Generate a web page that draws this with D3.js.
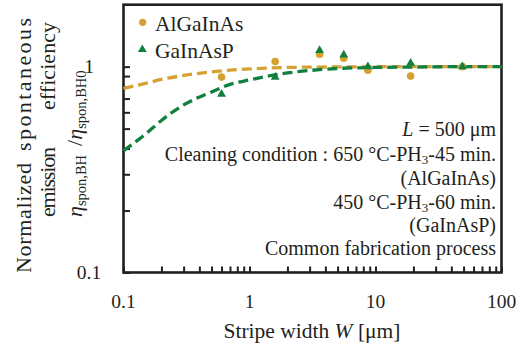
<!DOCTYPE html>
<html>
<head>
<meta charset="utf-8">
<script src="https://cdn.jsdelivr.net/npm/d3@7"></script>
<style>
  html, body { margin: 0; padding: 0; background: #fff; }
  svg { display: block; font-family: "Liberation Serif", "Times New Roman", serif; }
</style>
</head>
<body>
<svg id="chart" width="532" height="347"></svg>
<script>
// Measured stripe widths (µm) and normalized spontaneous emission efficiency
const widths = [0.6, 1.6, 3.6, 5.6, 8.7, 19, 49];
const algainas = [0.89, 1.06, 1.15, 1.10, 0.96, 0.90, 1.00];
const gainasp = [0.735, 0.89, 1.20, 1.14, 1.00, 1.04, 1.00];

// Fitted trend curves
const fitWidths = [0.1, 0.15, 0.2, 0.3, 0.5, 0.7, 1, 1.5, 2, 3, 5, 10, 20, 50, 100];
const fitAlGaInAs = [0.785, 0.83, 0.867, 0.906, 0.944, 0.962, 0.975, 0.986, 0.991, 0.995, 0.997, 0.999, 1, 1, 1];
const fitGaInAsP = [0.391, 0.471, 0.548, 0.652, 0.754, 0.82, 0.862, 0.906, 0.932, 0.958, 0.98, 0.991, 0.996, 1, 1];

const xTickLabels = ["0.1", "1", "10", "100"];
const yTickLabels = ["0.1", "1"];

const gold = "#D6A133";
const green = "#11803F";
const ink = "#231F20";

const svg = d3.select("#chart");
const L = 123.5, R = 501.5, T = 4.7, B = 272.5;

const x = d3.scaleLog().domain([0.1, 100]).range([L, R]);
const y = d3.scaleLog().domain([0.1, 2]).range([B, T]);

// minor + major ticks, pointing inward
const xTicks = [];
[0.1, 1, 10].forEach(d => { for (let k = 1; k <= 9; k++) xTicks.push(+(d * k).toPrecision(3)); });
xTicks.push(100);
const yTicks = [];
for (let k = 1; k <= 9; k++) yTicks.push(+(0.1 * k).toPrecision(3));
yTicks.push(1);

const xAxis = svg.append("g")
  .attr("transform", `translate(0,${B})`)
  .call(d3.axisBottom(x).tickValues(xTicks).tickSize(-6).tickFormat(""));
const yAxis = svg.append("g")
  .attr("transform", `translate(${L},0)`)
  .call(d3.axisLeft(y).tickValues(yTicks).tickSize(-6.5).tickFormat(""));
[xAxis, yAxis].forEach(g => {
  g.select(".domain").remove();
  g.selectAll(".tick line").attr("stroke", ink).attr("stroke-width", 2);
});

// frame
svg.append("rect")
  .attr("x", L).attr("y", T).attr("width", R - L).attr("height", B - T)
  .attr("fill", "none").attr("stroke", ink).attr("stroke-width", 2.6);

// tick labels
svg.append("g").selectAll("text").data(xTickLabels).join("text")
  .attr("x", d => x(+d)).attr("y", 307.5)
  .attr("text-anchor", "middle").attr("font-size", 19.5).attr("fill", ink)
  .text(d => d);
svg.append("g").selectAll("text").data(yTickLabels).join("text")
  .attr("x", 89).attr("y", d => y(+d) + 6.5)
  .attr("text-anchor", "middle").attr("font-size", 19.5).attr("fill", ink)
  .text(d => d);

// x-axis title
const xt = svg.append("text").attr("x", 312).attr("y", 338)
  .attr("text-anchor", "middle").attr("font-size", 21.5).attr("fill", ink);
xt.append("tspan").text("Stripe width ");
xt.append("tspan").attr("font-style", "italic").text("W");
xt.append("tspan").text(" [μm]");

// y-axis title (three rotated, justified lines)
function vText(px, py, anchor, len) {
  const t = svg.append("text")
    .attr("transform", `translate(${px},${py}) rotate(-90)`)
    .attr("text-anchor", anchor).attr("font-size", 22).attr("fill", ink);
  if (len) t.attr("textLength", len).attr("lengthAdjust", "spacing");
  return t;
}
vText(31, 273, "start", 110).text("Normalized");
vText(31, 18, "end", 133).text("spontaneous");
vText(55, 217, "start", 70).text("emission");
vText(55, 22, "end", 88).text("efficiency");
const eta = vText(82, 217, "start");
eta.append("tspan").attr("font-style", "italic").text("η");
eta.append("tspan").attr("font-size", 14.5).attr("dy", 4).text("spon,BH");
eta.append("tspan").attr("dy", -4).attr("dx", 9).text("/");
eta.append("tspan").attr("font-style", "italic").text("η");
eta.append("tspan").attr("font-size", 14.5).attr("dy", 4).text("spon,BH0");

// fitted curves
const line = d3.line().x(d => x(d[0])).y(d => y(d[1])).curve(d3.curveMonotoneX);
const plot = svg.append("g");
plot.append("path").datum(fitWidths.map((w, i) => [w, fitAlGaInAs[i]]))
  .attr("d", line).attr("fill", "none").attr("stroke", gold)
  .attr("stroke-width", 3.3).attr("stroke-dasharray", "10,5");
plot.append("path").datum(fitWidths.map((w, i) => [w, fitGaInAsP[i]]))
  .attr("d", line).attr("fill", "none").attr("stroke", green)
  .attr("stroke-width", 3.3).attr("stroke-dasharray", "10,5");

// markers
const tri = d3.symbol().type(d3.symbolTriangle).size(34);
plot.append("g").selectAll("circle").data(widths).join("circle")
  .attr("cx", d => x(d)).attr("cy", (d, i) => y(algainas[i]))
  .attr("r", 3.8).attr("fill", gold);
plot.append("g").selectAll("path").data(widths).join("path")
  .attr("d", tri)
  .attr("transform", (d, i) => `translate(${x(d)},${y(gainasp[i])})`)
  .attr("fill", green);

// legend
svg.append("circle").attr("cx", 142.7).attr("cy", 22.3).attr("r", 3.6).attr("fill", gold);
svg.append("path").attr("d", tri).attr("transform", "translate(142.3,49.5)").attr("fill", green);
svg.append("text").attr("x", 155).attr("y", 30.7).attr("font-size", 21.5).attr("fill", ink).text("AlGaInAs");
svg.append("text").attr("x", 155).attr("y", 57.5).attr("font-size", 21.5).attr("fill", ink).text("GaInAsP");

// annotation block, right-aligned
const notes = svg.append("g").attr("font-size", 20).attr("fill", ink).attr("text-anchor", "end");
function note(py) { return notes.append("text").attr("x", 496).attr("y", py); }
const n1 = note(136);
n1.append("tspan").attr("font-style", "italic").text("L");
n1.append("tspan").text(" = 500 μm");
const n2 = note(161);
n2.append("tspan").text("Cleaning condition : 650 °C-PH");
n2.append("tspan").attr("font-size", 13).attr("dy", 3).text("3");
n2.append("tspan").attr("dy", -3).text("-45 min.");
note(185).text("(AlGaInAs)");
const n4 = note(208.5);
n4.append("tspan").text("450 °C-PH");
n4.append("tspan").attr("font-size", 13).attr("dy", 3).text("3");
n4.append("tspan").attr("dy", -3).text("-60 min.");
note(231.5).text("(GaInAsP)");
note(254.5).text("Common fabrication process");
</script>
</body>
</html>
